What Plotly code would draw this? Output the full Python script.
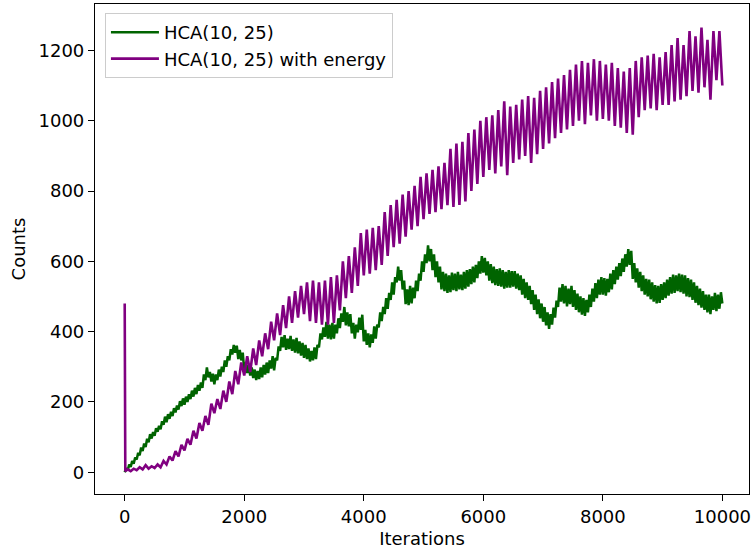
import plotly.graph_objects as go

# ---------------- data ----------------
HCA_STEP = 25      # sampling step of the read-off values (iterations)
ENERGY_STEP = 50

hca_iters = list(range(0, 10000, HCA_STEP)) + [9999]
hca_counts = [
    0, 12, 5, 22, 15, 32, 24, 42, 36, 55,
    48, 70, 60, 82, 72, 95, 85, 108, 96, 114,
    104, 125, 115, 132, 122, 145, 135, 158, 142, 165,
    152, 172, 160, 182, 170, 190, 178, 202, 188, 210,
    192, 215, 200, 222, 208, 232, 215, 240, 222, 248,
    232, 255, 240, 278, 262, 298, 270, 285, 258, 280,
    250, 278, 262, 292, 272, 300, 285, 318, 300, 330,
    318, 350, 335, 362, 340, 360, 322, 348, 318, 340,
    290, 312, 282, 305, 275, 298, 268, 292, 262, 288,
    265, 298, 270, 305, 278, 312, 282, 318, 295, 330,
    290, 325, 318, 358, 345, 385, 355, 390, 348, 380,
    350, 388, 345, 378, 340, 382, 338, 372, 332, 368,
    325, 362, 322, 352, 315, 345, 318, 355, 322, 362,
    355, 395, 378, 412, 385, 428, 380, 420, 378, 425,
    380, 420, 395, 438, 410, 452, 428, 470, 418, 455,
    415, 450, 395, 425, 380, 420, 398, 440, 405, 448,
    372, 405, 362, 395, 355, 392, 368, 415, 380, 420,
    412, 455, 430, 470, 450, 495, 465, 510, 490, 540,
    505, 555, 540, 585, 545, 575, 520, 545, 478, 520,
    475, 530, 480, 525, 495, 545, 515, 565, 545, 600,
    570, 620, 595, 645, 600, 635, 575, 620, 555, 600,
    540, 585, 520, 570, 515, 565, 510, 560, 512, 568,
    518, 565, 515, 570, 520, 562, 518, 570, 522, 575,
    528, 578, 535, 585, 540, 590, 552, 600, 565, 615,
    568, 610, 560, 600, 545, 592, 538, 585, 532, 578,
    530, 580, 528, 575, 522, 570, 525, 575, 525, 572,
    528, 572, 522, 565, 518, 560, 505, 550, 495, 540,
    490, 530, 478, 518, 462, 505, 450, 492, 438, 480,
    428, 470, 418, 455, 408, 450, 420, 468, 440, 488,
    470, 525, 485, 535, 480, 530, 472, 522, 478, 530,
    470, 518, 462, 508, 455, 500, 448, 495, 445, 490,
    455, 505, 470, 522, 485, 538, 495, 548, 505, 555,
    505, 552, 502, 550, 512, 565, 520, 575, 535, 585,
    548, 595, 558, 608, 570, 620, 585, 635, 590, 630,
    550, 595, 540, 580, 525, 570, 515, 560, 505, 550,
    500, 548, 492, 540, 485, 532, 480, 530, 482, 535,
    490, 540, 495, 548, 502, 555, 508, 562, 510, 560,
    515, 565, 512, 562, 508, 560, 500, 552, 498, 548,
    490, 540, 482, 530, 475, 522, 468, 515, 462, 505,
    455, 505, 450, 500, 462, 510, 458, 505, 465, 512,
    480,
]

energy_iters = [0, 10] + list(range(ENERGY_STEP, 10000, ENERGY_STEP)) + [9999]
energy_counts = [
    480, 3,
    8, 3, 10, 6, 14, 8, 20, 10, 17, 12,
    22, 14, 32, 22, 45, 33, 60, 45, 78, 62,
    95, 78, 118, 96, 140, 118, 160, 135, 195, 168,
    208, 180, 232, 200, 258, 222, 288, 250, 312, 275,
    330, 285, 352, 305, 375, 330, 395, 350, 428, 375,
    452, 390, 475, 410, 500, 425, 515, 440, 530, 450,
    540, 430, 545, 425, 540, 420, 545, 420, 555, 425,
    560, 460, 600, 495, 615, 510, 640, 530, 680, 560,
    690, 565, 695, 575, 700, 590, 740, 615, 760, 640,
    775, 650, 790, 670, 800, 690, 815, 700, 840, 720,
    850, 735, 860, 740, 870, 748, 880, 760, 920, 755,
    935, 760, 940, 770, 965, 800, 975, 820, 1000, 840,
    1010, 860, 1015, 850, 1030, 870, 1055, 845, 1040, 880,
    1045, 890, 1060, 900, 1070, 880, 1065, 905, 1085, 920,
    1095, 935, 1110, 950, 1120, 965, 1130, 975, 1145, 985,
    1160, 1000, 1170, 990, 1165, 1015, 1175, 1000, 1170, 1005,
    1160, 1000, 1165, 985, 1150, 980, 1140, 965, 1150, 960,
    1170, 1010, 1180, 1030, 1185, 1035, 1190, 1030, 1180, 1045,
    1195, 1045, 1215, 1055, 1235, 1060, 1215, 1070, 1255, 1085,
    1240, 1080, 1265, 1095, 1230, 1060, 1255, 1115, 1255,
    1100,
]

series_names = ["HCA(10, 25)", "HCA(10, 25) with energy"]
series_colors = ["#006400", "#800080"]

x_ticks = [0, 2000, 4000, 6000, 8000, 10000]
y_ticks = [0, 200, 400, 600, 800, 1000, 1200]

# ---------------- figure ----------------
FONT = "DejaVu Sans"
fig = go.Figure()
fig.add_trace(go.Scatter(x=hca_iters, y=hca_counts, mode="lines",
                         name=series_names[0],
                         line=dict(color=series_colors[0], width=2.5)))
fig.add_trace(go.Scatter(x=energy_iters, y=energy_counts, mode="lines",
                         name=series_names[1],
                         line=dict(color=series_colors[1], width=2.6)))

axis_common = dict(showgrid=False, zeroline=False, showline=True, mirror=True,
                   linecolor="black", linewidth=1.2, ticks="outside",
                   ticklen=6, tickwidth=1.2, tickcolor="black",
                   ticklabeloverflow="allow",
                   tickfont=dict(family=FONT, size=18, color="black"))

fig.update_xaxes(range=[-497, 10445], tickvals=x_ticks,
                 ticktext=[str(v) for v in x_ticks],
                 title=dict(text="Iterations", font=dict(family=FONT, size=18, color="black"),
                            standoff=6),
                 **axis_common)
fig.update_yaxes(range=[-62, 1332], tickvals=y_ticks,
                 ticktext=[str(v) for v in y_ticks],
                 title=dict(text="Counts", font=dict(family=FONT, size=18, color="black"),
                            standoff=8),
                 **axis_common)

fig.update_layout(
    width=751, height=551,
    margin=dict(l=95, r=0, t=4, b=57),
    paper_bgcolor="white", plot_bgcolor="white",
    font=dict(family=FONT, size=18, color="black"),
    showlegend=True,
    legend=dict(x=0.0152, y=0.9816, xanchor="left", yanchor="top",
                bgcolor="rgba(255,255,255,0.8)", bordercolor="#cccccc",
                borderwidth=1, itemwidth=48,
                font=dict(family=FONT, size=18, color="black")),
)

fig.write_html("out.html")
